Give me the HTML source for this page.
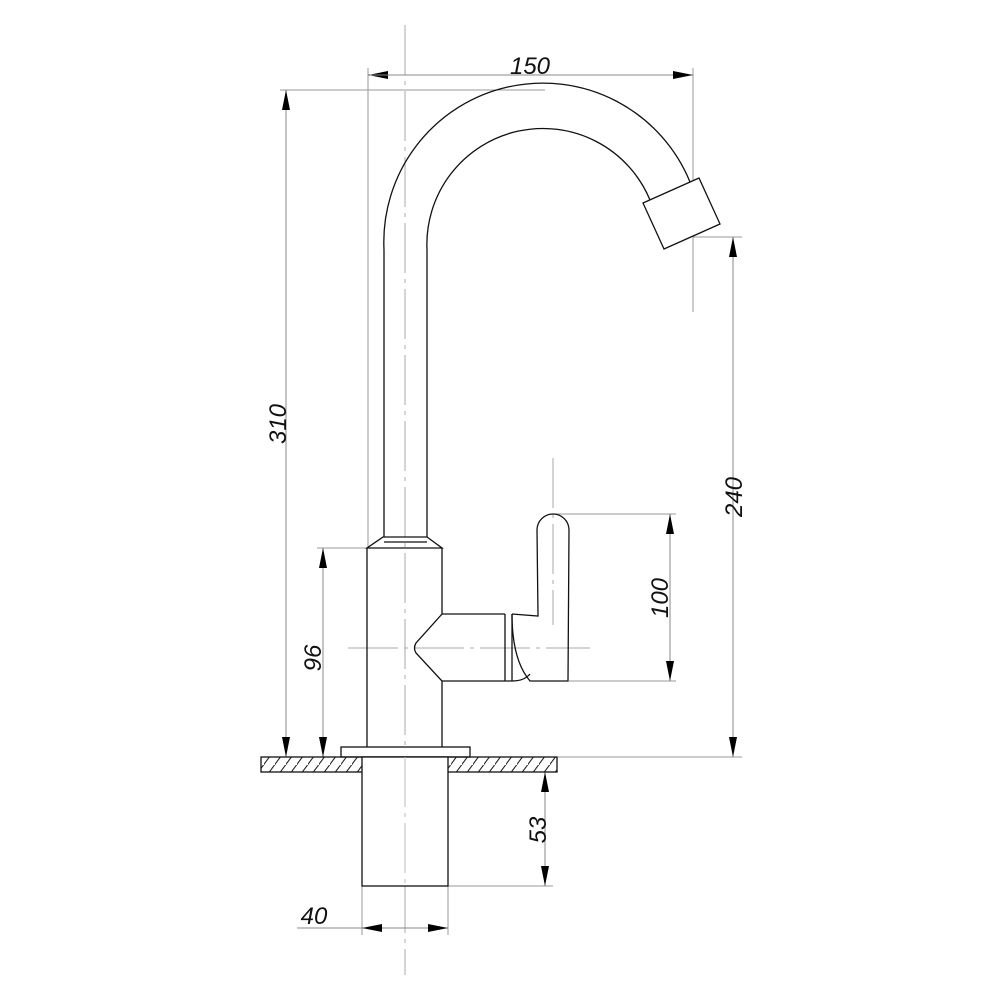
<!DOCTYPE html>
<html><head><meta charset="utf-8"><style>
html,body{margin:0;padding:0;background:#fff}
svg{display:block}
text{font-family:"Liberation Sans",sans-serif;font-style:italic;font-size:24px;fill:#111}
</style></head><body>
<svg width="1000" height="1000" viewBox="0 0 1000 1000" xmlns="http://www.w3.org/2000/svg">
<defs>
<marker id="a" viewBox="0 0 20 8" refX="20" refY="4" markerWidth="20" markerHeight="8" markerUnits="userSpaceOnUse" orient="auto"><path d="M0,0 L20,4 L0,8 z" fill="#000"/></marker>
<pattern id="h" width="11" height="15" patternUnits="userSpaceOnUse"><line x1="-2" y1="17" x2="12" y2="-2" stroke="#222" stroke-width="1.1"/></pattern>
</defs>
<g stroke="#aaa" stroke-width="1" fill="none" stroke-dasharray="50,6,4,6">
<line x1="405" y1="25" x2="405" y2="975"/>
<line x1="348" y1="648" x2="590" y2="648"/>
<line x1="553" y1="458" x2="553" y2="625"/>
</g>
<g stroke="#999" stroke-width="1" fill="none">
<line x1="368" y1="68" x2="368" y2="548"/>
<line x1="693" y1="68" x2="693" y2="312"/>
<line x1="280" y1="90" x2="545" y2="90"/>
<line x1="693" y1="237" x2="742" y2="237"/>
<line x1="553" y1="514" x2="676" y2="514"/>
<line x1="569" y1="681" x2="676" y2="681"/>
<line x1="317" y1="548" x2="367" y2="548"/>
<line x1="557" y1="757" x2="742" y2="757"/>
<line x1="448" y1="886" x2="553" y2="886"/>
<line x1="362" y1="886" x2="362" y2="935"/>
<line x1="448" y1="886" x2="448" y2="935"/>
</g>
<g stroke="#888" stroke-width="1" fill="none">
<line x1="395" y1="75" x2="368" y2="75" marker-end="url(#a)"/>
<line x1="370" y1="75" x2="693" y2="75" marker-end="url(#a)"/>
<line x1="286" y1="300" x2="286" y2="90" marker-end="url(#a)"/>
<line x1="286" y1="300" x2="286" y2="757" marker-end="url(#a)"/>
<line x1="733" y1="500" x2="733" y2="237" marker-end="url(#a)"/>
<line x1="733" y1="500" x2="733" y2="757" marker-end="url(#a)"/>
<line x1="670" y1="600" x2="670" y2="514" marker-end="url(#a)"/>
<line x1="670" y1="600" x2="670" y2="681" marker-end="url(#a)"/>
<line x1="323" y1="650" x2="323" y2="548" marker-end="url(#a)"/>
<line x1="323" y1="650" x2="323" y2="757" marker-end="url(#a)"/>
<line x1="545" y1="830" x2="545" y2="772" marker-end="url(#a)"/>
<line x1="545" y1="830" x2="545" y2="886" marker-end="url(#a)"/>
<line x1="297" y1="928" x2="448" y2="928"/>
<line x1="390" y1="928" x2="362" y2="928" marker-end="url(#a)"/>
<line x1="420" y1="928" x2="448" y2="928" marker-end="url(#a)"/>
</g>
<g stroke="#111" stroke-width="1.3" fill="none">
<path d="M384,537 L384,250 A159,159 0 0 1 690,182"/>
<path d="M427,537 L427,250 A116,116 0 0 1 650,200"/>
<polygon points="643,203 699,178 720,224 664,249" fill="#fff"/>
<path d="M383,537 L427,537 L442,548 L367,548 Z"/>
<line x1="384" y1="542" x2="427" y2="542"/>
<path d="M367,548 L367,747 M442,548 L442,614 L416,643 Q413,648 416,653 L442,681 L442,747"/>
<path d="M442,614 L505,614 M442,681 L505,681 M505,614 L505,681 M512,614 L512,681"/>
<path d="M505,681 L512,681 Q524,681 530,674 M512,614 Q512,660 530,681 L568,681 L569,530 A16,16 0 0 0 537,530 L538,616 L512,614"/>
<rect x="341" y="747" width="129" height="10" fill="#fff"/>
<rect x="261" y="757" width="296" height="15" fill="url(#h)"/>
<rect x="362" y="757" width="86" height="129" fill="#fff"/>
</g>
<line x1="405" y1="757" x2="405" y2="886" stroke="#bbb" stroke-dasharray="50,6,4,6"/>
<text x="530" y="74" text-anchor="middle">150</text>
<text transform="translate(286,424) rotate(-90)" text-anchor="middle">310</text>
<text transform="translate(321,658) rotate(-90)" text-anchor="middle">96</text>
<text transform="translate(742,497) rotate(-90)" text-anchor="middle">240</text>
<text transform="translate(668,598) rotate(-90)" text-anchor="middle">100</text>
<text transform="translate(546,830) rotate(-90)" text-anchor="middle">53</text>
<text x="314" y="924" text-anchor="middle">40</text>
</svg>
</body></html>
